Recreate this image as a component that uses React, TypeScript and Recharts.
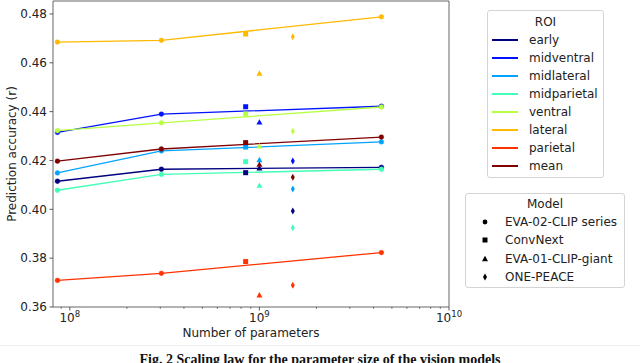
import React from "react";
import {
    ComposedChart,
    Line,
    Scatter,
    XAxis,
    YAxis,
    ReferenceArea,
} from "recharts";

// ROI names and jet colours (8 samples of the colormap)
const rois = ["early", "midventral", "midlateral", "midparietal", "ventral", "lateral", "parietal", "mean"];
const roiColors = ["#000080", "#0012ff", "#00a4ff", "#41ffb6", "#b6ff41", "#ffb900", "#ff3200", "#800000"];

// parameter counts
const evaParams = [8.6e7, 3.04e8, 4.4e9];
const convnextParams = 8.46e8;
const eva01Params = 1.0e9;
const onePeaceParams = 1.5e9;

// EVA-02-CLIP series, one row per ROI
const evaScores = [
    [0.4115, 0.4164, 0.4172],
    [0.4315, 0.439, 0.4422],
    [0.4149, 0.4239, 0.4276],
    [0.4078, 0.4143, 0.4164],
    [0.4322, 0.4354, 0.4419],
    [0.4685, 0.4692, 0.4788],
    [0.3709, 0.3738, 0.3823],
    [0.4197, 0.4247, 0.4296],
];
const convnextScores = [0.415, 0.442, 0.4255, 0.4195, 0.439, 0.4718, 0.3786, 0.4273];
const eva01Scores = [0.4168, 0.4356, 0.4202, 0.4097, 0.4258, 0.4556, 0.3648, 0.4183];
const onePeaceScores = [0.3993, 0.4198, 0.4083, 0.3925, 0.432, 0.4707, 0.3689, 0.4131];

const models = ["EVA-02-CLIP series", "ConvNext", "EVA-01-CLIP-giant", "ONE-PEACE"];

const xTicks = [
    9e7, 1e8, 2e8, 3e8, 4e8, 5e8, 6e8, 7e8, 8e8, 9e8,
    1e9, 2e9, 3e9, 4e9, 5e9, 6e9, 7e9, 8e9, 9e9, 1e10,
];
const yTicks = [0.36, 0.38, 0.4, 0.42, 0.44, 0.46, 0.48];

const FONT = "'DejaVu Sans', sans-serif";
const X_MIN = 8.15e7;
const X_MAX = 1e10;
const Y_MIN = 0.36;
const Y_MAX = 0.4853;

const Marker = ({ kind, cx, cy, fill }: any) => {
    if (kind === "square") return <rect x={cx - 2.5} y={cy - 2.5} width={5} height={5} fill={fill} />;
    if (kind === "triangle")
        return <polygon points={`${cx},${cy - 3.2} ${cx - 3},${cy + 2.2} ${cx + 3},${cy + 2.2}`} fill={fill} />;
    if (kind === "diamond")
        return <polygon points={`${cx},${cy - 3.5} ${cx + 2},${cy} ${cx},${cy + 3.5} ${cx - 2},${cy}`} fill={fill} />;
    return <circle cx={cx} cy={cy} r={2.4} fill={fill} />;
};

const XTick = (props: any) => {
    const { x, y, payload } = props;
    const exp = Math.log10(payload.value);
    const major = Math.abs(exp - Math.round(exp)) < 1e-6;
    return (
        <g>
            <line x1={x} x2={x} y1={y} y2={y + (major ? 3.5 : 2)} stroke="#333" strokeWidth={major ? 0.8 : 0.6} />
            {major && (
                <text x={x} y={y + 15} textAnchor="middle" fontSize={12} fontFamily={FONT} fill="#222">
                    10
                    <tspan dy={-5} fontSize={8.5}>
                        {Math.round(exp)}
                    </tspan>
                </text>
            )}
        </g>
    );
};

export default function App() {
    return (
        <div style={{ position: "absolute", left: 0, top: 0, width: 640, height: 363, overflow: "hidden", background: "#fff" }}>
            <ComposedChart width={640} height={363} margin={{ top: 1, right: 191, bottom: 0, left: 0 }}>
                <XAxis
                    dataKey="x"
                    type="number"
                    scale="log"
                    domain={[X_MIN, X_MAX]}
                    allowDataOverflow
                    ticks={xTicks}
                    interval={0}
                    height={56}
                    axisLine={false}
                    tickLine={false}
                    tickSize={0}
                    tickMargin={0}
                    tick={<XTick />}
                    label={{
                        content: () => (
                            <text x={251} y={337} textAnchor="middle" fontSize={12} fontFamily={FONT} fill="#222">
                                Number of parameters
                            </text>
                        ),
                    }}
                />
                <YAxis
                    dataKey="y"
                    type="number"
                    domain={[Y_MIN, Y_MAX]}
                    allowDataOverflow
                    ticks={yTicks}
                    interval={0}
                    width={53}
                    axisLine={false}
                    tickSize={3.5}
                    tickMargin={2.5}
                    tickLine={{ stroke: "#333", strokeWidth: 0.8 }}
                    tickFormatter={(v: number) => v.toFixed(2)}
                    tick={{ fontSize: 12, fontFamily: FONT, fill: "#222" }}
                    label={{
                        content: () => (
                            <text
                                transform="translate(12,154) rotate(-90)"
                                textAnchor="middle"
                                dominantBaseline="central"
                                fontSize={12}
                                fontFamily={FONT}
                                fill="#222"
                            >
                                Prediction accuracy (r)
                            </text>
                        ),
                    }}
                />
                <ReferenceArea
                    x1={X_MIN}
                    x2={X_MAX}
                    y1={Y_MIN}
                    y2={Y_MAX}
                    fill="none"
                    fillOpacity={0}
                    stroke="#666"
                    strokeWidth={1}
                    ifOverflow="visible"
                />
                {rois.map((roi, i) => (
                    <Line
                        key={roi}
                        name={roi}
                        data={evaParams.map((p, j) => ({ x: p, y: evaScores[i][j] }))}
                        dataKey="y"
                        stroke={roiColors[i]}
                        strokeWidth={1.3}
                        dot={{ r: 2.4, fill: roiColors[i], stroke: roiColors[i], strokeWidth: 0.4 }}
                        activeDot={false}
                        isAnimationActive={false}
                    />
                ))}
                {rois.map((roi, i) => (
                    <Scatter
                        key={"c" + roi}
                        data={[{ x: convnextParams, y: convnextScores[i] }]}
                        dataKey="y"
                        fill={roiColors[i]}
                        shape={(p: any) => <Marker kind="square" cx={p.cx} cy={p.cy} fill={roiColors[i]} />}
                        isAnimationActive={false}
                    />
                ))}
                {rois.map((roi, i) => (
                    <Scatter
                        key={"e" + roi}
                        data={[{ x: eva01Params, y: eva01Scores[i] }]}
                        dataKey="y"
                        fill={roiColors[i]}
                        shape={(p: any) => <Marker kind="triangle" cx={p.cx} cy={p.cy} fill={roiColors[i]} />}
                        isAnimationActive={false}
                    />
                ))}
                {rois.map((roi, i) => (
                    <Scatter
                        key={"o" + roi}
                        data={[{ x: onePeaceParams, y: onePeaceScores[i] }]}
                        dataKey="y"
                        fill={roiColors[i]}
                        shape={(p: any) => <Marker kind="diamond" cx={p.cx} cy={p.cy} fill={roiColors[i]} />}
                        isAnimationActive={false}
                    />
                ))}
            </ComposedChart>

            {/* ROI legend */}
            <div
                style={{
                    position: "absolute", left: 487, top: 10, width: 115, height: 166,
                    border: "1px solid #d4d4d4", borderRadius: 3, fontFamily: FONT, fontSize: 12, color: "#222",
                }}
            >
                <div style={{ position: "absolute", left: 0, width: 115, top: 3, textAlign: "center", lineHeight: "16px" }}>ROI</div>
                {rois.map((roi, i) => (
                    <div key={roi} style={{ position: "absolute", left: 0, top: 21 + i * 18, height: 16 }}>
                        <div style={{ position: "absolute", left: 4, top: 7, width: 26, height: 2, background: roiColors[i] }} />
                        <div style={{ position: "absolute", left: 41, top: 0, lineHeight: "16px", whiteSpace: "nowrap" }}>{roi}</div>
                    </div>
                ))}
            </div>

            {/* Model legend */}
            <div
                style={{
                    position: "absolute", left: 465, top: 193, width: 158, height: 93,
                    border: "1px solid #d4d4d4", borderRadius: 3, fontFamily: FONT, fontSize: 12, color: "#222",
                }}
            >
                <div style={{ position: "absolute", left: 0, width: 158, top: 2, textAlign: "center", lineHeight: "16px" }}>Model</div>
                {models.map((m, i) => (
                    <div key={m} style={{ position: "absolute", left: 0, top: 20 + i * 18.3, height: 16 }}>
                        <svg style={{ position: "absolute", left: 14, top: 3 }} width={10} height={10}>
                            <Marker kind={["circle", "square", "triangle", "diamond"][i]} cx={5} cy={5} fill="#000" />
                        </svg>
                        <div style={{ position: "absolute", left: 39, top: 0, lineHeight: "16px", whiteSpace: "nowrap" }}>{m}</div>
                    </div>
                ))}
            </div>

            <div style={{ position: "absolute", left: 0, top: 345, width: 640, height: 1, background: "#f1f1f1" }} />
            <div
                style={{
                    position: "absolute", left: 0, top: 353, width: 640, textAlign: "center",
                    fontFamily: "'Liberation Serif', serif", fontWeight: "bold", fontSize: 14, lineHeight: "14px", color: "#111",
                }}
            >
                Fig. 2 Scaling law for the parameter size of the vision models
            </div>
        </div>
    );
}
